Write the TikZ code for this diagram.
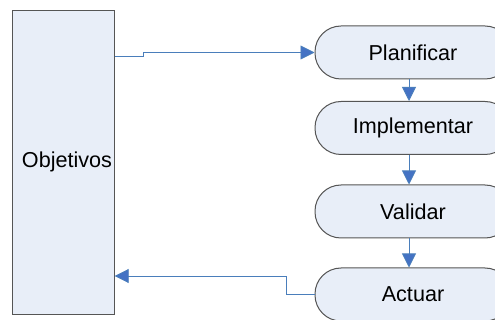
\documentclass[tikz,border=0pt]{standalone}
\usepackage{fontspec}
\setmainfont{Liberation Sans}
\usetikzlibrary{arrows.meta}
\definecolor{boxfill}{HTML}{E8EEF8}
\definecolor{boxline}{HTML}{555555}
\definecolor{conn}{HTML}{4A7EBB}
\definecolor{tipc}{HTML}{4472C4}
\tikzset{
  objbox/.style={draw=boxline, fill=boxfill, line width=1pt, minimum width=102pt, minimum height=304pt, inner sep=0pt},
  txt/.style={font=\fontsize{21.6}{26}\selectfont, inner sep=0pt},
  stepbox/.style={draw=boxline, fill=boxfill, line width=1pt, rounded corners=26pt, minimum width=196pt, minimum height=53pt, inner sep=0pt, font=\fontsize{21.6}{26}\selectfont},
  conline/.style={draw=conn, line width=0.9pt, -{Triangle[length=14pt,width=14pt,fill=tipc]}}
}
\begin{document}
\begin{tikzpicture}[x=1pt,y=-1pt]
\useasboundingbox (0,0) rectangle (495,320);
\clip (0,0) rectangle (495,320);
\fill[white] (0,0) rectangle (495,320);
\node[objbox] (obj) at (63.5,162.3) {};
\node[txt] (objtxt) at (67,162) {Objetivos};
\node[stepbox] (plan) at (413,52.5) {Planificar};
\node[stepbox] (impl) at (413,128) {Implementar};
\node[stepbox] (vali) at (413,211.5) {Validar};
\node[stepbox] (actu) at (413,294.5) {Actuar};
\coordinate (t1) at (114.7,56);
\coordinate (b1) at (114.7,276);
\draw[conline] (t1) -- (143,56) -- (143,52.5) -- (plan.west);
\draw[conline] (actu.west) -- (286,294.5) -- (286,276) -- (b1);
\draw[conline] (plan.south -| 409,0) -- (impl.north -| 409,0);
\draw[conline] (impl.south -| 409,0) -- (vali.north -| 409,0);
\draw[conline] (vali.south -| 409,0) -- (actu.north -| 409,0);
\end{tikzpicture}
\end{document}
